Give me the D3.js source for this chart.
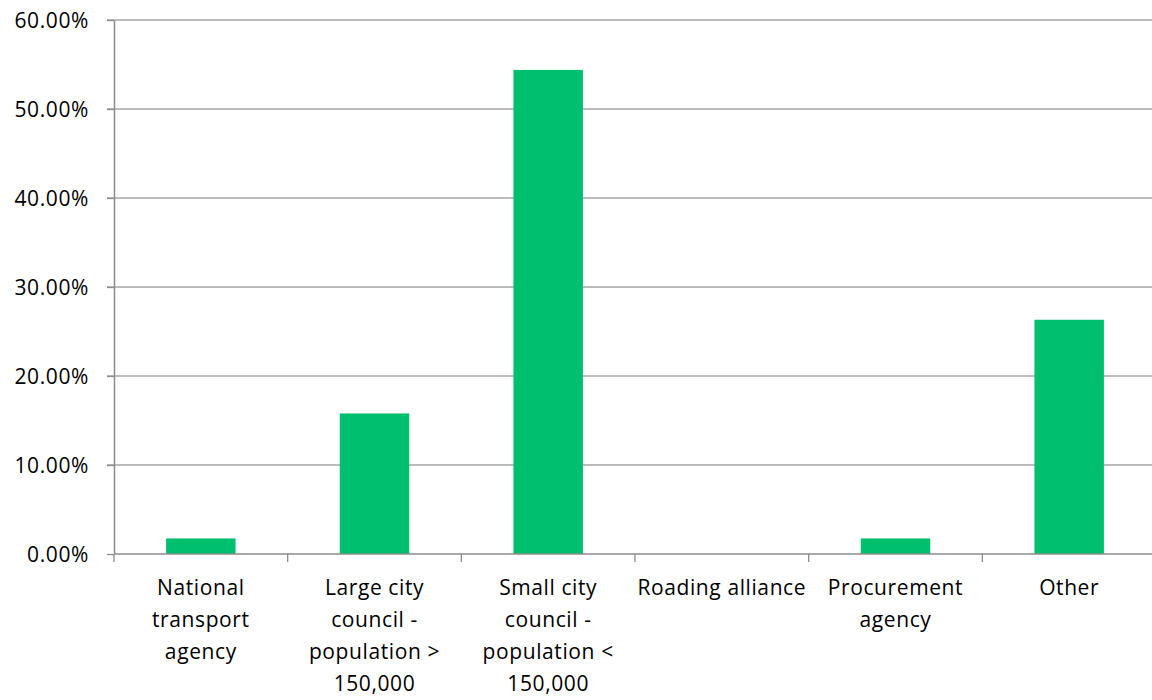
<!DOCTYPE html>
<html>
<head>
<meta charset="utf-8">
<script src="https://cdn.jsdelivr.net/npm/d3@7"></script>
<style>
  html, body { margin: 0; padding: 0; background: #fff; }
  svg text { font-family: "Open Sans", "Noto Sans", sans-serif; fill: #000; letter-spacing: 0.6px; }
</style>
</head>
<body>
<svg id="chart" width="1152" height="700"></svg>
<script>
// Share of respondents by organisation type
const categories = [
  ["National", "transport", "agency"],
  ["Large city", "council -", "population >", "150,000"],
  ["Small city", "council -", "population <", "150,000"],
  ["Roading alliance"],
  ["Procurement", "agency"],
  ["Other"]
];
const values = [0.0175, 0.1579, 0.5439, 0, 0.0175, 0.2632];
const yTicks = [0, 0.1, 0.2, 0.3, 0.4, 0.5, 0.6];

const svg = d3.select("#chart");
const plotLeft = 114, plotRight = 1156, plotTop = 20, plotBottom = 554;

const x = d3.scaleBand()
  .domain(d3.range(categories.length))
  .range([plotLeft, plotRight])
  .paddingInner(0.6)
  .paddingOuter(0.3);

const y = d3.scaleLinear().domain([0, 0.6]).range([plotBottom, plotTop]);

// horizontal gridlines
svg.append("g")
  .selectAll("line")
  .data(yTicks.slice(1))
  .join("line")
  .attr("x1", plotLeft - 7).attr("x2", plotRight)
  .attr("y1", d => y(d)).attr("y2", d => y(d))
  .attr("stroke", "#a6a6a6").attr("stroke-width", 1.3);

// y axis
const yAxis = svg.append("g")
  .attr("transform", `translate(${plotLeft},0)`)
  .call(d3.axisLeft(y).tickValues(yTicks).tickSize(7).tickSizeOuter(0)
    .tickFormat(d => (d * 100).toFixed(2) + "%"));
yAxis.select(".domain").attr("stroke", "#8c8c8c").attr("stroke-width", 1.5);
yAxis.selectAll(".tick line").attr("stroke", "#8c8c8c").attr("stroke-width", 1.3);
yAxis.selectAll(".tick text")
  .attr("x", -25)
  .attr("font-size", 21)
  .attr("dy", "0.35em");

// bars
svg.append("g")
  .selectAll("rect")
  .data(values)
  .join("rect")
  .attr("x", (d, i) => x(i))
  .attr("width", x.bandwidth())
  .attr("y", d => y(d))
  .attr("height", d => y(0) - y(d))
  .attr("fill", "#00bf6f");

// x axis line and category dividers
const step = x.step();
const bounds = d3.range(categories.length + 1).map(i => plotLeft + i * step);
svg.append("line")
  .attr("x1", plotLeft).attr("x2", plotRight)
  .attr("y1", plotBottom).attr("y2", plotBottom)
  .attr("stroke", "#8c8c8c").attr("stroke-width", 1.5);
svg.append("g")
  .selectAll("line")
  .data(bounds)
  .join("line")
  .attr("x1", d => d).attr("x2", d => d)
  .attr("y1", plotBottom).attr("y2", plotBottom + 8)
  .attr("stroke", "#8c8c8c").attr("stroke-width", 1.3);

// category labels
const labels = svg.append("g")
  .selectAll("text")
  .data(categories)
  .join("text")
  .attr("x", (d, i) => x(i) + x.bandwidth() / 2)
  .attr("y", 595)
  .attr("text-anchor", "middle")
  .attr("font-size", 21);
labels.selectAll("tspan")
  .data(d => d)
  .join("tspan")
  .attr("x", function() { return d3.select(this.parentNode).attr("x"); })
  .attr("dy", (d, i) => i === 0 ? 0 : 32)
  .text(d => d);
</script>
</body>
</html>
